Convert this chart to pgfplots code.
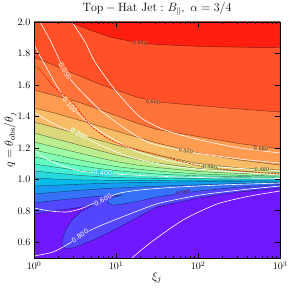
\documentclass[border=0pt]{standalone}
\usepackage{fontspec}
\usepackage{pgfplots}
\pgfplotsset{compat=1.18}
\newfontfamily\lblfont{DejaVu Sans}
\definecolor{c0}{RGB}{112,24,255}
\definecolor{c1}{RGB}{83,70,253}
\definecolor{c2}{RGB}{53,114,248}
\definecolor{c3}{RGB}{22,154,242}
\definecolor{c4}{RGB}{7,188,233}
\definecolor{c5}{RGB}{38,217,223}
\definecolor{c6}{RGB}{68,238,210}
\definecolor{c7}{RGB}{98,251,196}
\definecolor{c8}{RGB}{128,255,180}
\definecolor{c9}{RGB}{157,251,163}
\definecolor{c10}{RGB}{188,238,144}
\definecolor{c11}{RGB}{217,217,124}
\definecolor{c12}{RGB}{248,188,103}
\definecolor{c13}{RGB}{255,154,81}
\definecolor{c14}{RGB}{255,114,58}
\definecolor{c15}{RGB}{255,80,40}
\definecolor{c16}{RGB}{255,30,15}
\tikzset{band/.style={fill=#1, draw=black, draw opacity=0.5, line width=0.45pt},
  wline/.style={white, line width=0.6pt, smooth, tension=0.4},
  blab/.style={font=\lblfont\fontsize{5}{5}\selectfont, text=black!75, inner sep=0.2pt},
  wlab/.style={font=\lblfont\fontsize{6.5}{6.5}\selectfont, text=white, inner sep=0.3pt}}
\begin{document}
\begin{tikzpicture}
\begin{axis}[
  scale only axis, width=246pt, height=236pt,
  xmin=0, xmax=3, ymin=0.5, ymax=2,
  axis background/.style={fill=c0},
  axis on top,
  xtick={0,1,2,3},
  xticklabels={$10^{0}$,$10^{1}$,$10^{2}$,$10^{3}$},
  minor xtick={0.30103,0.47712,0.60206,0.69897,0.77815,0.84510,0.90309,0.95424,
    1.30103,1.47712,1.60206,1.69897,1.77815,1.84510,1.90309,1.95424,
    2.30103,2.47712,2.60206,2.69897,2.77815,2.84510,2.90309,2.95424},
  ytick={0.6,0.8,1.0,1.2,1.4,1.6,1.8,2.0},
  yticklabel style={/pgf/number format/.cd,fixed,fixed zerofill,precision=1},
  tick align=inside,
  xtick pos=both, ytick pos=both,
  major tick length=5pt, minor tick length=2.5pt,
  tick style={black, line width=0.6pt},
  axis line style={line width=0.8pt},
  title={$\mathrm{Top-Hat\ Jet:}\ B_{\parallel},\ \alpha=3/4$},
  title style={font=\large, at={(axis description cs:0.5,1.031)}, anchor=center},
  xlabel={$\xi_j$}, ylabel={$q=\theta_{\rm obs}/\theta_j$},
  xlabel style={font=\large, at={(axis description cs:0.5,-0.083)}, anchor=center},
  ylabel style={font=\large, at={(axis description cs:-0.097,0.5)}, anchor=center},
]
% level 0.04 (with tongue)
\addplot[band=c1] coordinates {(0,0.7796) (0.25,0.7987) (0.5,0.8178) (0.707,0.8337) (0.659,0.8178) (0.561,0.7923) (0.463,0.7415) (0.390,0.6843) (0.354,0.6334) (0.341,0.5826) (0.390,0.5572) (0.5,0.5667) (0.75,0.6207) (1,0.6843) (1.25,0.7542) (1.5,0.8241) (2,0.8813) (2.5,0.9195) (3,0.9449) (3,2) (0,2)} -- cycle;
% level 0.08 (with ellipse)
\addplot[band=c2] coordinates {(0,0.8495) (0.25,0.8654) (0.5,0.8781) (0.75,0.8909) (0.927,0.8972) (1.073,0.8991) (0.976,0.8877) (0.915,0.8718) (0.890,0.8559) (0.951,0.8368) (1.049,0.8400) (1.25,0.8591) (1.5,0.8877) (2,0.9258) (2.5,0.9512) (3,0.9671) (3,2) (0,2)} -- cycle;
\addplot[band=c3] coordinates {(0,0.9068) (0.25,0.9176) (0.5,0.9284) (0.75,0.9373) (1,0.9449) (1.25,0.9512) (1.5,0.9563) (2,0.9652) (2.5,0.9735) (3,0.9798) (3,2) (0,2)} -- cycle;
\addplot[band=c4] coordinates {(0,0.9576) (0.25,0.9627) (0.5,0.9678) (0.75,0.9729) (1,0.9767) (1.25,0.9798) (1.5,0.9818) (2,0.9849) (2.5,0.9875) (3,0.9894) (3,2) (0,2)} -- cycle;
\addplot[band=c5] coordinates {(0,1.0084) (0.25,1.0021) (0.5,0.9970) (0.75,0.9945) (1,0.9932) (1.25,0.9932) (1.5,0.9938) (2,0.9945) (2.5,0.9951) (3,0.9957) (3,2) (0,2)} -- cycle;
\addplot[band=c6] coordinates {(0,1.0529) (0.25,1.0402) (0.5,1.0275) (0.75,1.0180) (1,1.0116) (1.25,1.0084) (1.5,1.0059) (2,1.0040) (2.5,1.0027) (3,1.0021) (3,2) (0,2)} -- cycle;
\addplot[band=c7] coordinates {(0,1.0974) (0.25,1.0784) (0.5,1.0593) (0.75,1.0434) (1,1.0320) (1.25,1.0243) (1.5,1.0192) (2,1.0135) (2.5,1.0103) (3,1.0084) (3,2) (0,2)} -- cycle;
\addplot[band=c8] coordinates {(0,1.1419) (0.25,1.1165) (0.5,1.0911) (0.75,1.0720) (1,1.0561) (1.25,1.0434) (1.5,1.0339) (2,1.0224) (2.5,1.0173) (3,1.0148) (3,2) (0,2)} -- cycle;
\addplot[band=c9] coordinates {(0,1.1864) (0.25,1.1578) (0.5,1.1292) (0.75,1.1038) (1,1.0815) (1.25,1.0657) (1.5,1.0529) (2,1.0339) (2.5,1.0256) (3,1.0212) (3,2) (0,2)} -- cycle;
\addplot[band=c10] coordinates {(0,1.2373) (0.25,1.2055) (0.5,1.1737) (0.75,1.1419) (1,1.1133) (1.25,1.0911) (1.5,1.0752) (2,1.0498) (2.5,1.0371) (3,1.0307) (3,2) (0,2)} -- cycle;
\addplot[band=c11] coordinates {(0,1.2945) (0.25,1.2595) (0.5,1.2246) (0.75,1.1896) (1,1.1546) (1.25,1.1260) (1.5,1.1038) (2,1.0688) (2.5,1.0529) (3,1.0434) (3,2) (0,2)} -- cycle;
\addplot[band=c12] coordinates {(0,1.3644) (0.25,1.3294) (0.5,1.2945) (0.75,1.2563) (1,1.2182) (1.25,1.1864) (1.5,1.1546) (2,1.1006) (2.5,1.0720) (3,1.0593) (3,2) (0,2)} -- cycle;
\addplot[band=c13] coordinates {(0,1.4534) (0.25,1.4216) (0.5,1.3835) (0.75,1.3453) (1,1.3072) (1.25,1.2690) (1.5,1.2309) (2,1.1674) (2.5,1.1229) (3,1.0911) (3,2) (0,2)} -- cycle;
\addplot[band=c14] coordinates {(0,1.5678) (0.25,1.5328) (0.5,1.4979) (0.75,1.4534) (1,1.4057) (1.25,1.3580) (1.5,1.3167) (2,1.2722) (2.5,1.2277) (3,1.1928) (3,2) (0,2)} -- cycle;
\addplot[band=c15] coordinates {(0,1.7775) (0.25,1.7235) (0.5,1.6695) (0.75,1.6155) (1,1.5678) (1.25,1.5233) (1.5,1.4915) (2,1.4693) (2.5,1.4470) (3,1.4280) (3,2) (0,2)} -- cycle;
\addplot[band=c16] coordinates {(0.439,2.0) (0.683,1.9490) (0.927,1.9046) (1.25,1.8697) (1.5,1.8570) (2,1.8455) (2.5,1.8398) (3,1.8379) (3,2)} -- cycle;
% white contours
\addplot[wline] coordinates {(0.463,2.0) (0.622,1.873) (0.744,1.746) (0.988,1.568) (1.293,1.396) (1.598,1.3135) (2.024,1.2500) (2.512,1.1991) (3,1.1674)};
\addplot[wline] coordinates {(0.073,2.0) (0.195,1.886) (0.293,1.778) (0.378,1.682) (0.524,1.587) (0.805,1.441) (1.134,1.314) (1.415,1.2309) (1.902,1.1737) (2.512,1.1292) (3,1.1038)};
\addplot[wline] coordinates {(0,1.8538) (0.134,1.7267) (0.293,1.5805) (0.439,1.4725) (0.622,1.3771) (0.805,1.3072) (1.207,1.1864) (1.659,1.1165) (2.268,1.0784) (3,1.0529)};
\addplot[wline] coordinates {(0,1.4280) (0.195,1.3644) (0.378,1.3199) (0.561,1.2818) (0.805,1.2182) (1.171,1.1419) (1.659,1.0847) (2.268,1.0529) (3,1.0275)};
\addplot[wline] coordinates {(0,1.1864) (0.134,1.1356) (0.317,1.0911) (0.561,1.0529) (0.805,1.0402) (1.293,1.0243) (2.024,1.0116) (3,1.0052)};
\addplot[wline] coordinates {(0,0.8178) (0.195,0.7987) (0.402,0.7923) (0.561,0.8114) (0.707,0.8432) (0.841,0.8750) (1.049,0.9131) (1.293,0.9322) (1.659,0.9481) (2.268,0.9640) (3,0.9767)};
\addplot[wline] coordinates {(0,0.5127) (0.232,0.5381) (0.439,0.5953) (0.561,0.6398) (0.744,0.6907) (1.012,0.7479) (1.293,0.8050) (1.537,0.8495) (2.024,0.9004) (2.512,0.9322) (3,0.9576)};
\addplot[wline] coordinates {(1.195,0.5) (1.415,0.5953) (1.817,0.7415) (2.232,0.8432) (2.634,0.8940) (3,0.9258)};
% red dashed
\addplot[red, line width=0.6pt, dash pattern=on 2pt off 1.2pt, smooth, tension=0.4] coordinates {(0,1.7202) (0.073,1.6947) (0.256,1.5805) (0.476,1.4852) (0.683,1.3452) (0.890,1.2627) (1.110,1.2118) (1.415,1.1674) (2.024,1.0847) (2.512,1.0529) (3,1.0339)};
% labels
\node[blab, fill=c15, rotate=-3] at (axis cs:1.293,1.8665) {0.640};
\node[blab, fill=c14, rotate=-6] at (axis cs:1.451,1.4915) {0.600};
\node[blab, fill=c13, rotate=-3] at (axis cs:2.768,1.1960) {0.560};
\node[blab, fill=c12, rotate=-10] at (axis cs:1.854,1.1800) {0.520};
\node[blab, fill=c11, rotate=-3] at (axis cs:2.146,1.0780) {0.480};
\node[blab, fill=c11, rotate=-2] at (axis cs:2.780,1.0600) {0.480};
\node[blab, fill=c1, rotate=10] at (axis cs:1.817,0.9150) {0.080};
\node[wlab, fill=c14, rotate=-60] at (axis cs:0.378,1.6884) {0.050};
\node[wlab, fill=c13, rotate=-50] at (axis cs:0.439,1.4725) {0.100};
\node[wlab, fill=c11, rotate=-30] at (axis cs:0.549,1.2881) {0.200};
\node[wlab, fill=c5, rotate=-4] at (axis cs:0.841,1.0402) {0.400};
\node[wlab, fill=c1, rotate=25] at (axis cs:0.841,0.8686) {0.600};
\node[wlab, fill=c1, rotate=35] at (axis cs:0.561,0.6398) {0.800};
\end{axis}
\pgfresetboundingbox
\path[use as bounding box] ([xshift=-34pt,yshift=-33pt]current axis.south west) rectangle ([xshift=11pt,yshift=22pt]current axis.north east);
\end{tikzpicture}
\end{document}
